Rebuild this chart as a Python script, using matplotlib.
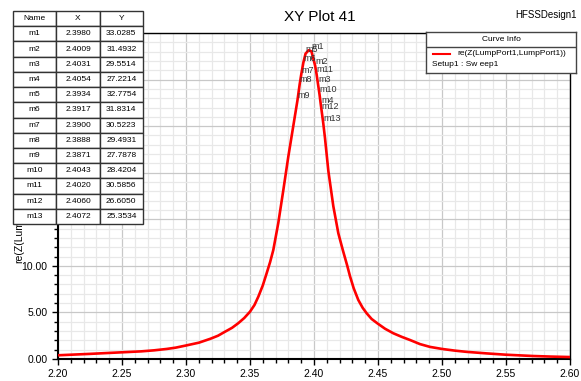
import numpy as np
import matplotlib
matplotlib.use("Agg")
import matplotlib.pyplot as plt
from matplotlib.ticker import MultipleLocator, FormatStrFormatter

plt.rcParams['font.family'] = ['Liberation Sans', 'DejaVu Sans']

# curve (GHz, ohm)
freq = [2.200, 2.225, 2.250, 2.265, 2.275, 2.285, 2.292, 2.300, 2.310, 2.319,
        2.325, 2.3305, 2.336, 2.3409, 2.3455, 2.350, 2.3535, 2.3565, 2.360, 2.363,
        2.3657, 2.3682, 2.3721, 2.376, 2.3799, 2.3838, 2.3871, 2.3888, 2.3900, 2.3917,
        2.3934, 2.3958, 2.3980, 2.4009, 2.4020, 2.4031, 2.4043, 2.4054, 2.4060, 2.4072,
        2.4086, 2.4112, 2.4151, 2.4190, 2.4225, 2.4260, 2.4281, 2.4310, 2.4346, 2.4380,
        2.4412, 2.4450, 2.4495, 2.4555, 2.4620, 2.4685, 2.4750, 2.4828, 2.4906, 2.500,
        2.510, 2.519, 2.535, 2.550, 2.5713, 2.585, 2.600]
rez = [0.40, 0.55, 0.72, 0.82, 0.93, 1.08, 1.22, 1.45, 1.75, 2.17,
       2.50, 2.93, 3.35, 3.85, 4.40, 5.08, 5.80, 6.69, 7.90, 9.20,
       10.4, 11.7, 14.6, 18.1, 21.7, 25.0, 27.79, 29.49, 30.52, 31.83,
       32.78, 33.15, 33.03, 31.49, 30.59, 29.55, 28.42, 27.22, 26.61, 25.35,
       23.7, 20.2, 16.4, 13.5, 11.7, 10.0, 8.9, 7.6, 6.34, 5.5,
       4.9, 4.3, 3.83, 3.25, 2.76, 2.38, 2.04, 1.60, 1.30, 1.08,
       0.90, 0.77, 0.60, 0.46, 0.32, 0.26, 0.21]

# markers
m_names = ['m1', 'm2', 'm3', 'm4', 'm5', 'm6', 'm7', 'm8', 'm9', 'm10', 'm11', 'm12', 'm13']
m_x = [2.3980, 2.4009, 2.4031, 2.4054, 2.3934, 2.3917, 2.3900, 2.3888, 2.3871,
       2.4043, 2.4020, 2.4060, 2.4072]
m_y = [33.0285, 31.4932, 29.5514, 27.2214, 32.7754, 31.8314, 30.5223, 29.4931,
       27.7878, 28.4204, 30.5856, 26.6050, 25.3534]

fig = plt.figure(figsize=(5.81, 3.81), dpi=100)
ax = fig.add_axes([58/581, 1 - 359/381, 512/581, 326/381])

ax.plot(freq, rez, color='#ff0000', lw=1.9, zorder=3)
for n, x, y in zip(m_names, m_x, m_y):
    ax.text(x, y, n, fontsize=6.5, color='#333333', ha='left', va='bottom', zorder=4)

ax.set_xlim(2.20, 2.60)
ax.set_ylim(0, 35)
ax.xaxis.set_major_locator(MultipleLocator(0.05))
ax.xaxis.set_minor_locator(MultipleLocator(0.01))
ax.yaxis.set_major_locator(MultipleLocator(5))
ax.yaxis.set_minor_locator(MultipleLocator(1))
ax.xaxis.set_major_formatter(FormatStrFormatter('%.2f'))
ax.yaxis.set_major_formatter(FormatStrFormatter('%.2f'))
ax.grid(which='major', color='#c8c8c8', lw=0.9)
ax.grid(which='minor', color='#e8e8e8', lw=0.9)
ax.set_axisbelow(True)
ax.tick_params(which='both', direction='out', labelsize=7.5, width=1)
ax.tick_params(which='major', length=4)
ax.tick_params(which='minor', length=3)
for s in ax.spines.values():
    s.set_linewidth(1)
ax.spines['left'].set_linewidth(1.5)
ax.spines['bottom'].set_linewidth(1.5)
ax.set_xlabel('Freq [GHz]', fontsize=7.5, labelpad=1)
ax.set_ylabel('re(Z(LumpPort1,LumpPort1))', fontsize=7.5)
ax.yaxis.set_label_coords(-0.066, 0.5)

fig.text(320/581, 1 - 17/381, 'XY Plot 41', fontsize=11, ha='center', va='center')
fig.text(577/581, 1 - 15/381, 'HFSSDesign1', fontsize=7, ha='right', va='center')

# curve info box
lax = fig.add_axes([426/581, 1 - 73/381, 150/581, 41/381])
lax.set_xlim(0, 150)
lax.set_ylim(41, 0)
lax.set_xticks([])
lax.set_yticks([])
for s in lax.spines.values():
    s.set_linewidth(1)
    s.set_color('#444444')
lax.axhline(15, color='#444444', lw=1)
lax.text(75, 7.5, 'Curve Info', fontsize=6, ha='center', va='center')
lax.plot([7, 24], [21.5, 21.5], color='#ff0000', lw=1.5)
lax.text(31, 21.5, 're(Z(LumpPort1,LumpPort1))', fontsize=6, va='center')
lax.text(6, 33, 'Setup1 : Sw eep1', fontsize=6, va='center')

# marker table
tax = fig.add_axes([13/581, 1 - 224/381, 130/581, 213/381])
tax.axis('off')
cells = [[n, '%.4f' % x, '%.4f' % y] for n, x, y in zip(m_names, m_x, m_y)]
tab = tax.table(cellText=cells, colLabels=['Name', 'X', 'Y'],
                cellLoc='center', bbox=[0, 0, 1, 1])
tab.auto_set_font_size(False)
tab.set_fontsize(6)
for c in tab.get_celld().values():
    c.set_edgecolor('#333333')
    c.set_linewidth(1)
    c.set_facecolor('white')
tax.patch.set_visible(True)
tax.patch.set_facecolor('white')

fig.savefig('out.png', dpi=100)
